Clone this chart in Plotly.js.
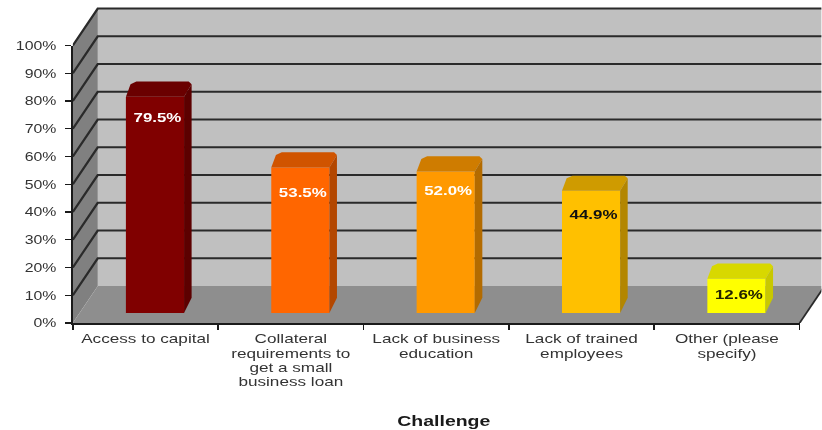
<!DOCTYPE html>
<html>
<head>
<meta charset="utf-8">
<script src="https://cdn.plot.ly/plotly-3.0.1.min.js"></script>
<style>
html,body{margin:0;padding:0;background:#fff;overflow:hidden;width:822px;height:430px}
#wrap{position:absolute;left:0;top:0;transform-origin:0 0;filter:blur(0.45px)}
</style>
</head>
<body>
<div id="wrap"><div id="chart"></div></div>
<script>
const categories = ["Access to capital","Collateral<br>requirements to<br>get a small<br>business loan","Lack of business<br>education","Lack of trained<br>employees","Other (please<br>specify)"];
const values = [79.5,53.5,52.0,44.9,12.6];
const labels = ["79.5%","53.5%","52.0%","44.9%","12.6%"];
const frontColors = ["#800000","#ff6600","#ff9900","#ffc000","#ffff00"];
const topColors = ["#6a0000","#d05400","#cf7c00","#cf9b00","#d8d800"];
const sideColors = ["#5c0000","#b34700","#b36b00","#b38600","#c8c800"];
const labelColors = ["#ffffff","#ffffff","#ffffff","#111111","#222200"];
const yTicks = [0,10,20,30,40,50,60,70,80,90,100];
const yTickText = ["0%","10%","20%","30%","40%","50%","60%","70%","80%","90%","100%"];

const S = 1.3;               // the whole picture is stretched sideways
const PW = 822/S, PH = 430;
const wallDx = 0.172, wallDy = 13.33, nCat = categories.length;
const barW = 0.4, barDx = 0.052, barDy = 5.6, cx = 0.02, cy = 1.0;
const labelDrop = [8.1,9.7,7.4,9.2,6.3], labelShift = 0.017;

document.getElementById('wrap').style.transform = 'scaleX('+S+')';

function poly(xs,ys,color,xa,ya){
  return {type:'scatter',mode:'lines',x:xs,y:ys,fill:'toself',fillcolor:color,
    line:{width:0,color:color},xaxis:xa,yaxis:ya,hoverinfo:'skip',showlegend:false};
}
function line(xs,ys,w){
  return {type:'scatter',mode:'lines',x:xs,y:ys,line:{width:w,color:'#2a2a2a'},
    xaxis:'x',yaxis:'y',hoverinfo:'skip',showlegend:false};
}
const traces = [];
// walls and floor, on a hidden pair of axes that covers the whole drawing
traces.push(poly([wallDx,nCat+wallDx,nCat+wallDx,wallDx,wallDx],[wallDy,wallDy,100+wallDy,100+wallDy,wallDy],'#c0c0c0','x','y'));
traces.push(poly([0,wallDx,wallDx,0,0],[0,wallDy,100+wallDy,100,0],'#808080','x','y'));
traces.push(poly([0,nCat,nCat+wallDx,wallDx,0],[0,0,wallDy,wallDy,0],'#8e8e8e','x','y'));
yTicks.filter(v=>v>0).forEach(v=>traces.push(line([0,wallDx,nCat+wallDx],[v,v+wallDy,v+wallDy],1.8)));
traces.push(line([nCat,nCat+wallDx],[0,wallDy],1.5));
// keeps the visible, labelled axes on the page
traces.push({type:'scatter',mode:'markers',x:[0],y:[0],marker:{opacity:0,size:1},xaxis:'x2',yaxis:'y2',hoverinfo:'skip',showlegend:false});
// bars
const idx = values.map((_,i)=>i);
traces.push({type:'bar',x:idx,y:values,width:barW,marker:{color:frontColors,line:{width:0}},
  xaxis:'x3',yaxis:'y3',hoverinfo:'skip',showlegend:false,cliponaxis:false});
values.forEach((v,i)=>{
  const L=i-barW/2,R=i+barW/2;
  traces.push(poly([L,R,R+barDx,R+barDx-cx,L+barDx+cx,L+barDx-cx,L],[v,v,v+barDy-cy,v+barDy,v+barDy,v+barDy-cy,v],topColors[i],'x3','y3'));
  traces.push(poly([R,R+barDx,R+barDx,R,R],[0,barDy,v+barDy-cy,v,0],sideColors[i],'x3','y3'));
});
traces.push({type:'scatter',mode:'text',x:idx.map(i=>i+labelShift),y:values.map((v,i)=>v-labelDrop[i]),text:labels,textposition:'middle center',
  textfont:{family:'Liberation Sans',size:13,weight:700,color:labelColors},
  xaxis:'x3',yaxis:'y3',hoverinfo:'skip',showlegend:false});

const plotW = 749, plotH = 318;
const layout = {
  width:PW,height:PH,paper_bgcolor:'#ffffff',plot_bgcolor:'rgba(0,0,0,0)',showlegend:false,
  margin:{l:73/S,r:0,t:5,b:107,pad:0},
  font:{family:'Liberation Sans',color:'#333333'},
  xaxis:{domain:[0,1],range:[0,nCat*plotW/727],visible:false,anchor:'y',fixedrange:true},
  yaxis:{domain:[0,1],range:[0,100*plotH/277.5],visible:false,anchor:'x',fixedrange:true},
  xaxis2:{domain:[0,727/plotW],range:[0,nCat],type:'linear',tickmode:'array',
    tickvals:categories.map((_,i)=>i+0.5),ticktext:categories,ticks:'',showgrid:false,zeroline:false,
    showline:true,linecolor:'#1a1a1a',linewidth:1.5,anchor:'y2',ticklabelstandoff:3,
    tickfont:{size:13.2,color:'#333333'},tickangle:0,fixedrange:true,
    minor:{tickmode:'array',tickvals:[0,1,2,3,4,5],ticks:'outside',ticklen:5,tickwidth:1.2,tickcolor:'#1a1a1a',showgrid:false},
    title:{text:'Challenge',font:{family:'Liberation Sans',size:15,weight:700,color:'#1a1a1a'}}},
  yaxis2:{domain:[0,277.5/plotH],range:[0,100],tickmode:'array',tickvals:yTicks,ticktext:yTickText,
    ticks:'outside',ticklen:5,tickwidth:1.2,tickcolor:'#1a1a1a',showgrid:false,zeroline:false,
    showline:true,linecolor:'#1a1a1a',linewidth:1.2,anchor:'x2',ticklabelstandoff:4,
    tickfont:{size:12.2,color:'#333333'},fixedrange:true},
  xaxis3:{domain:[9.5/plotW,736.5/plotW],range:[-0.5,nCat-0.5],visible:false,anchor:'y3',fixedrange:true},
  yaxis3:{domain:[10/plotH,282/plotH],range:[0,100],visible:false,anchor:'x3',fixedrange:true}
};
function placeTitle(){
  const el=document.querySelector('.x2title');
  if(!el) return;
  el.style.transform='none';
  const r=el.getBoundingClientRect();
  el.style.transform='translate('+((444-(r.left+r.right)/2)/S)+'px,'+(421-(r.top+r.bottom)/2)+'px)';
}
Plotly.newPlot('chart',traces,layout,{displayModeBar:false,staticPlot:true}).then(()=>{
  document.querySelectorAll('.xaxislayer-above text tspan.line').forEach(t=>{
    const d=parseFloat(t.getAttribute('dy'));
    if(!isNaN(d)) t.setAttribute('dy',(d*1.08/1.3)+'em');
  });
  placeTitle();
  setTimeout(placeTitle,60);
});
</script>
</body>
</html>
